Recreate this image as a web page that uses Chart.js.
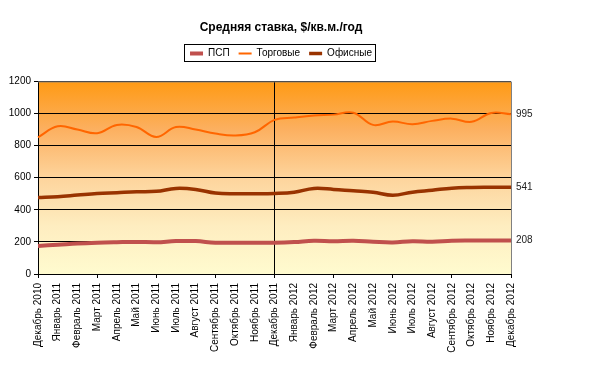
<!DOCTYPE html>
<html><head><meta charset="utf-8">
<script src="https://cdn.jsdelivr.net/npm/chart.js@4/dist/chart.umd.min.js"></script>
<style>html,body{margin:0;padding:0;background:#fff}#wrap{width:600px;height:368px}</style>
</head><body><div id="wrap"><canvas id="c" width="600" height="368"></canvas></div>
<script>
const months = ['Декабрь 2010','Январь 2011','Февраль 2011','Март 2011','Апрель 2011','Май 2011','Июнь 2011','Июль 2011','Август 2011','Сентябрь 2011','Октябрь 2011','Ноябрь 2011','Декабрь 2011','Январь 2012','Февраль 2012','Март 2012','Апрель 2012','Май 2012','Июнь 2012','Июль 2012','Август 2012','Сентябрь 2012','Октябрь 2012','Ноябрь 2012','Декабрь 2012'];
const psp    = [175,182,190,195,198,200,198,205,205,195,195,195,195,199,207,204,207,201,197,204,201,207,208,208,208];
const trade  = [852,920,900,877,929,916,854,916,900,875,863,883,960,975,987,993,1005,929,950,933,954,968,948,1003,995];
const office = [477,482,492,502,507,512,515,533,527,505,500,500,502,510,533,527,518,510,491,510,522,535,539,540,541];
const seriesNames = ['ПСП','Торговые','Офисные'];
const yTicks = [0,200,400,600,800,1000,1200];
const markerIndex = 12; // Декабрь 2011
const chartTitle = 'Средняя ставка, $/кв.м./год';

const FONT = "'Liberation Sans', Arial, sans-serif";

const bgPlugin = {
  id: 'bg',
  beforeLayout(chart) {
    const lg = chart.legend;
    if (lg && !lg._wrapped) {
      const orig = lg.fit;
      lg.fit = function() { orig.call(this); this.height += 13; };
      lg._wrapped = true;
    }
  },
  beforeDraw(chart) {
    const {ctx, chartArea: a} = chart;
    const g = ctx.createLinearGradient(0, a.top, 0, a.bottom);
    g.addColorStop(0, '#FF9A14');
    g.addColorStop(0.25, '#FCB060');
    g.addColorStop(0.5, '#FDD49C');
    g.addColorStop(0.75, '#FEEDC0');
    g.addColorStop(1, '#FFFBCF');
    ctx.save();
    ctx.fillStyle = g;
    ctx.fillRect(a.left, a.top, a.right - a.left, a.bottom - a.top);
    ctx.restore();
  },
  afterDraw(chart) {
    const {ctx, chartArea: a} = chart;
    ctx.save();
    ctx.strokeStyle = '#808080';
    ctx.lineWidth = 1;
    ctx.beginPath();
    ctx.moveTo(a.left, a.top + 0.5); ctx.lineTo(a.right + 0.5, a.top + 0.5); ctx.lineTo(a.right + 0.5, a.bottom);
    ctx.stroke();
    // legend frame
    const boxes = chart.legend.legendHitBoxes;
    if (boxes && boxes.length) {
      let l = Infinity, r = -Infinity, t = Infinity, b = -Infinity;
      boxes.forEach(h => { l = Math.min(l, h.left); r = Math.max(r, h.left + h.width); t = Math.min(t, h.top); b = Math.max(b, h.top + h.height); });
      ctx.strokeStyle = '#000';
      ctx.strokeRect(Math.round(l) - 5.5, Math.round(t) - 3.5, Math.round(r - l) + 9, Math.round(b - t) + 7);
    }
    // end labels
    const ys = chart.scales.y;
    ctx.fillStyle = '#222';
    ctx.font = '10px ' + FONT;
    ctx.textBaseline = 'middle';
    ctx.textAlign = 'left';
    chart.data.datasets.forEach(ds => {
      const v = ds.data[ds.data.length - 1];
      ctx.fillText(String(v), a.right + 5, ys.getPixelForValue(v));
    });
    ctx.restore();
  }
};

new Chart(document.getElementById('c'), {
  type: 'line',
  data: {
    labels: months,
    datasets: [
      {label: seriesNames[0], data: psp, borderColor: '#C0504D', backgroundColor: '#C0504D', borderWidth: 4},
      {label: seriesNames[1], data: trade, borderColor: '#FF6600', backgroundColor: '#FF6600', borderWidth: 2},
      {label: seriesNames[2], data: office, borderColor: '#993300', backgroundColor: '#993300', borderWidth: 3.5}
    ]
  },
  options: {
    responsive: false,
    animation: false,
    devicePixelRatio: 1,
    layout: {padding: {left: 0, right: 38, top: 0, bottom: 0}},
    elements: {point: {radius: 0}, line: {tension: 0.4, cubicInterpolationMode: 'default'}},
    plugins: {
      title: {display: true, text: chartTitle, color: '#000', font: {family: FONT, size: 12, weight: 'bold'}, padding: {top: 20, bottom: 5}},
      legend: {
        display: true,
        labels: {color: '#000', font: {family: FONT, size: 10}, usePointStyle: true, pointStyle: 'line', pointStyleWidth: 13, padding: 9, boxHeight: 10}
      },
      tooltip: {enabled: false}
    },
    scales: {
      x: {
        offset: false,
        afterFit(s) { s.height = 94; },
        grid: {
          color: c => c.index === markerIndex ? '#000' : 'rgba(0,0,0,0)',
          lineWidth: 1,
          tickColor: c => c.index % 3 === 0 ? '#000' : 'rgba(0,0,0,0)',
          tickLength: 4,
          drawOnChartArea: true
        },
        border: {display: true, color: '#000', width: 1},
        ticks: {autoSkip: false, maxRotation: 90, minRotation: 90, color: '#000', font: {family: FONT, size: 10}, padding: 5}
      },
      y: {
        min: 0, max: 1200,
        afterFit(s) { s.width = 38; },
        afterBuildTicks(s) { s.ticks = yTicks.map(v => ({value: v})); },
        grid: {color: '#000', lineWidth: 1, tickColor: '#000', tickLength: 4},
        border: {display: true, color: '#000', width: 1},
        ticks: {color: '#000', font: {family: FONT, size: 10}, padding: 3, callback: v => String(v)}
      },
      yr: {
        type: 'linear', position: 'right', display: true, min: 0, max: 1200,
        afterFit(s) { s.width = 51; },
        grid: {display: false, drawOnChartArea: false, drawTicks: false},
        border: {display: false},
        ticks: {display: false}
      }
    }
  },
  plugins: [bgPlugin]
});
</script>
</body></html>
